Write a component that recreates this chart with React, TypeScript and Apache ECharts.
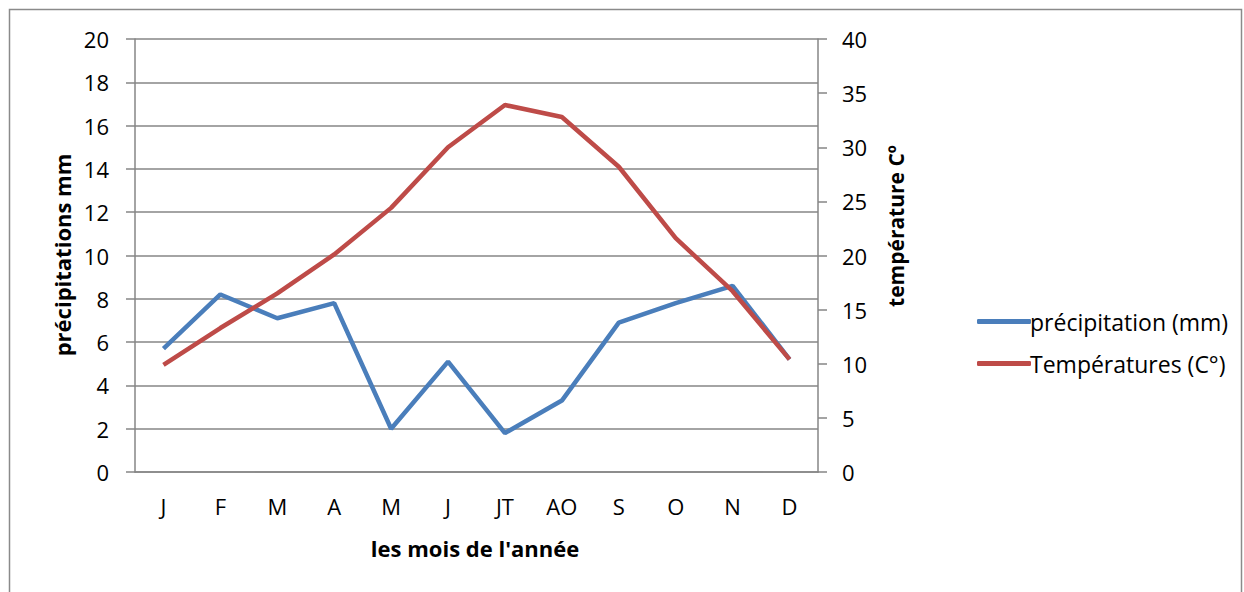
import React, { useEffect, useRef } from "react";
import * as echarts from "echarts";

const months = ["J", "F", "M", "A", "M", "J", "JT", "AO", "S", "O", "N", "D"];
const precipitation = [5.7, 8.2, 7.1, 7.8, 2.0, 5.1, 1.8, 3.3, 6.9, 7.8, 8.6, 5.2];
const temperatures = [9.9, 13.3, 16.5, 20.1, 24.4, 30.0, 33.9, 32.8, 28.2, 21.6, 16.7, 10.4];

const FONT = "'Open Sans', 'Noto Sans', sans-serif";
const GRAY = "#868686";
const TICK_SIZE = 22;

export default function App() {
  const ref = useRef<HTMLDivElement>(null);
  useEffect(() => {
    if (!ref.current) return;
    const chart = echarts.init(ref.current, null, { renderer: "svg" });
    chart.setOption({
      animation: false,
      backgroundColor: "#ffffff",
      textStyle: { fontFamily: FONT },
      grid: { left: 135, right: 426, top: 39, bottom: 120, containLabel: false },
      legend: {
        orient: "vertical",
        left: 972,
        top: 305,
        itemWidth: 54,
        itemHeight: 5,
        itemGap: 19,
        icon: "roundRect",
        textStyle: { fontFamily: FONT, fontSize: 23, color: "#000", padding: [0, 0, 0, -6] },
        data: ["précipitation (mm)", "Températures (C°)"],
      },
      xAxis: {
        type: "category",
        data: months,
        boundaryGap: true,
        axisLine: { show: true, lineStyle: { color: GRAY, width: 1.5 } },
        axisTick: { show: false },
        axisLabel: { color: "#000", fontSize: TICK_SIZE, fontFamily: FONT, margin: 23 },
      },
      yAxis: [
        {
          type: "value",
          min: 0,
          max: 20,
          interval: 2,
          axisLine: { show: true, lineStyle: { color: GRAY, width: 1.5 } },
          axisTick: { show: true, length: 9, lineStyle: { color: GRAY, width: 1.5 } },
          splitLine: { show: true, lineStyle: { color: GRAY, width: 1.5 } },
          axisLabel: { color: "#000", fontSize: TICK_SIZE, fontFamily: FONT, margin: 26 },
        },
        {
          type: "value",
          min: 0,
          max: 40,
          interval: 5,
          position: "right",
          axisLine: { show: true, lineStyle: { color: GRAY, width: 1.5 } },
          axisTick: { show: true, length: 9, lineStyle: { color: GRAY, width: 1.5 } },
          splitLine: { show: false },
          axisLabel: { color: "#000", fontSize: TICK_SIZE, fontFamily: FONT, margin: 24 },
        },
      ],
      series: [
        {
          name: "précipitation (mm)",
          type: "line",
          data: precipitation,
          yAxisIndex: 0,
          symbol: "none",
          color: "#4A7EBB",
          lineStyle: { width: 4.5, color: "#4A7EBB" },
        },
        {
          name: "Températures (C°)",
          type: "line",
          data: temperatures,
          yAxisIndex: 1,
          symbol: "none",
          color: "#BE4B48",
          lineStyle: { width: 4.5, color: "#BE4B48" },
        },
      ],
      graphic: [
        {
          type: "rect",
          silent: true,
          shape: { x: 9.5, y: 9.5, width: 1232, height: 620 },
          style: { fill: "none", stroke: "#8a8a8a", lineWidth: 1.5 },
        },
        {
          type: "text",
          x: 62,
          y: 255,
          rotation: Math.PI / 2,
          style: {
            text: "précipitations mm",
            font: `bold 22px ${FONT}`,
            fill: "#000",
            textAlign: "center",
            textVerticalAlign: "middle",
          },
        },
        {
          type: "text",
          x: 896,
          y: 226,
          rotation: Math.PI / 2,
          style: {
            text: "température Cº",
            font: `bold 21px ${FONT}`,
            fill: "#000",
            textAlign: "center",
            textVerticalAlign: "middle",
          },
        },
        {
          type: "text",
          x: 475,
          y: 548,
          style: {
            text: "les mois de l'année",
            font: `bold 22px ${FONT}`,
            fill: "#000",
            textAlign: "center",
            textVerticalAlign: "middle",
          },
        },
      ],
    });
    return () => chart.dispose();
  }, []);
  return (
    <div
      ref={ref}
      style={{ position: "fixed", left: 0, top: 0, width: 1244, height: 592 }}
    />
  );
}
